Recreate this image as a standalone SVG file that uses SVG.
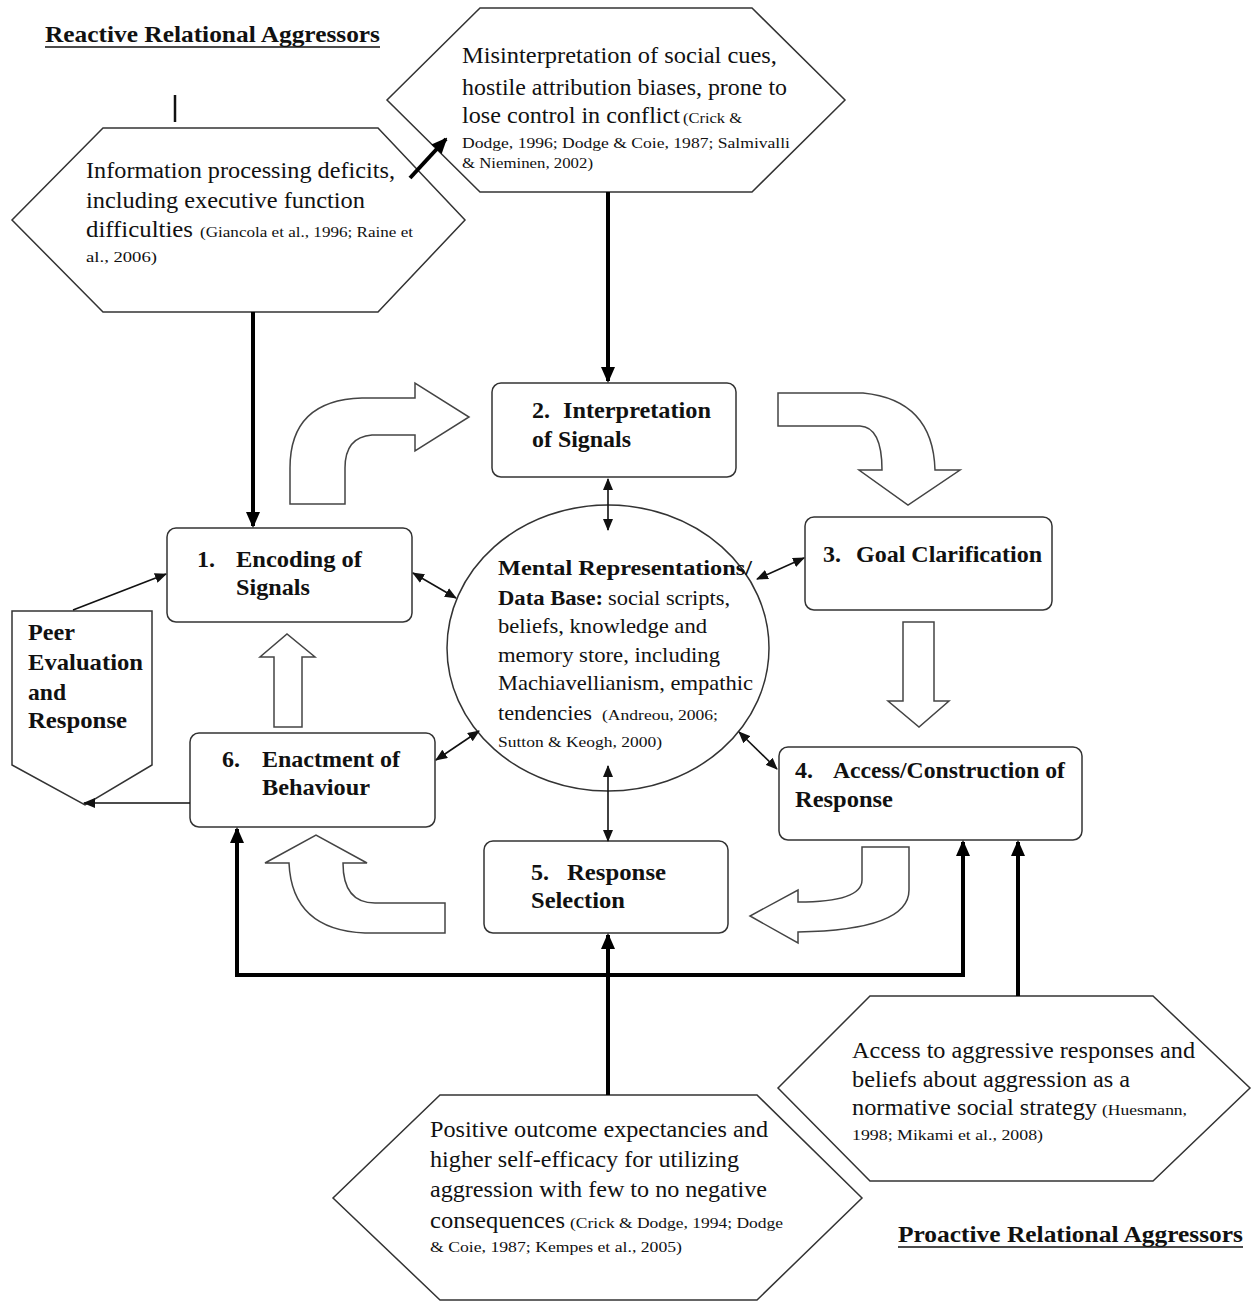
<svg xmlns="http://www.w3.org/2000/svg" width="1253" height="1304" viewBox="0 0 1253 1304">
  <style>
    .t { font-family: "Liberation Serif", "Times New Roman", serif; fill: #111; }
    .body { font-size: 23px; }
    .cite { font-size: 15px; }
    .b { font-weight: bold; font-size: 24px; }
    .title { font-weight: bold; font-size: 23px; }
    .shape { fill: #fff; stroke: #333; stroke-width: 1.5; }
    .block { fill: #fff; stroke: #444; stroke-width: 1.5; stroke-linejoin: miter; }
    .thick { fill: none; stroke: #000; stroke-width: 4; }
    .thin { fill: none; stroke: #111; stroke-width: 1.6; }
    .ul { stroke: #111; stroke-width: 1.5; }
  </style>
  <defs>
    <marker id="headThick" markerUnits="userSpaceOnUse" markerWidth="16" markerHeight="16" viewBox="0 0 16 16" refX="14" refY="8" orient="auto">
      <path d="M0,1 L16,8 L0,15 Z" fill="#000"/>
    </marker>
    <marker id="headThin" markerUnits="userSpaceOnUse" markerWidth="12" markerHeight="10" viewBox="0 0 12 10" refX="11" refY="5" orient="auto-start-reverse">
      <path d="M0,0 L12,5 L0,10 Z" fill="#111"/>
    </marker>
  </defs>

  <rect width="1253" height="1304" fill="#fff"/>

  <!-- headings -->
  <g id="heading-reactive">
    <text class="t title" x="45" y="42" textLength="335" lengthAdjust="spacingAndGlyphs">Reactive Relational Aggressors</text>
    <line class="ul" x1="45" y1="47" x2="380" y2="47"/>
  </g>
  <g id="heading-proactive">
    <text class="t title" x="898" y="1242" textLength="345" lengthAdjust="spacingAndGlyphs">Proactive Relational Aggressors</text>
    <line class="ul" x1="898" y1="1247" x2="1243" y2="1247"/>
  </g>

  <!-- small tick under the reactive heading -->
  <line x1="175" y1="95" x2="175" y2="122" stroke="#111" stroke-width="2.5"/>

  <!-- hexagon: information processing deficits -->
  <g id="hex-deficits">
    <polygon class="shape" points="103,128 378,128 465,220 378,312 103,312 12,220"/>
    <text class="t body" x="86" y="178" textLength="309" lengthAdjust="spacingAndGlyphs">Information processing deficits,</text>
    <text class="t body" x="86" y="208" textLength="279" lengthAdjust="spacingAndGlyphs">including executive function</text>
    <text class="t body" x="86" y="237" textLength="107" lengthAdjust="spacingAndGlyphs">difficulties</text>
    <text class="t cite" x="200" y="237" textLength="213" lengthAdjust="spacingAndGlyphs">(Giancola et al., 1996; Raine et</text>
    <text class="t cite" x="86" y="262" textLength="71" lengthAdjust="spacingAndGlyphs">al., 2006)</text>
  </g>

  <!-- hexagon: misinterpretation of social cues -->
  <g id="hex-misinterpretation">
    <polygon class="shape" points="480,8 752,8 845,100 752,192 480,192 387,100"/>
    <text class="t body" x="462" y="63" textLength="315" lengthAdjust="spacingAndGlyphs">Misinterpretation of social cues,</text>
    <text class="t body" x="462" y="95" textLength="325" lengthAdjust="spacingAndGlyphs">hostile attribution biases, prone to</text>
    <text class="t body" x="462" y="123" textLength="218" lengthAdjust="spacingAndGlyphs">lose control in conflict</text>
    <text class="t cite" x="683" y="123" textLength="59" lengthAdjust="spacingAndGlyphs">(Crick &amp;</text>
    <text class="t cite" x="462" y="148" textLength="328" lengthAdjust="spacingAndGlyphs">Dodge, 1996; Dodge &amp; Coie, 1987; Salmivalli</text>
    <text class="t cite" x="462" y="168" textLength="131" lengthAdjust="spacingAndGlyphs">&amp; Nieminen, 2002)</text>
  </g>

  <!-- step 1 -->
  <g id="step-1-encoding">
    <rect class="shape" x="167" y="528" width="245" height="94" rx="9"/>
    <text class="t b" x="197" y="567">1.</text>
    <text class="t b" x="236" y="567" textLength="126" lengthAdjust="spacingAndGlyphs">Encoding of</text>
    <text class="t b" x="236" y="595" textLength="74" lengthAdjust="spacingAndGlyphs">Signals</text>
  </g>

  <!-- step 2 -->
  <g id="step-2-interpretation">
    <rect class="shape" x="492" y="383" width="244" height="94" rx="9"/>
    <text class="t b" x="532" y="418">2.</text>
    <text class="t b" x="563" y="418" textLength="148" lengthAdjust="spacingAndGlyphs">Interpretation</text>
    <text class="t b" x="532" y="447" textLength="99" lengthAdjust="spacingAndGlyphs">of Signals</text>
  </g>

  <!-- step 3 -->
  <g id="step-3-goal">
    <rect class="shape" x="805" y="517" width="247" height="93" rx="9"/>
    <text class="t b" x="823" y="562">3.</text>
    <text class="t b" x="856" y="562" textLength="186" lengthAdjust="spacingAndGlyphs">Goal Clarification</text>
  </g>

  <!-- step 4 -->
  <g id="step-4-access">
    <rect class="shape" x="779" y="747" width="303" height="93" rx="9"/>
    <text class="t b" x="795" y="778">4.</text>
    <text class="t b" x="833" y="778" textLength="232" lengthAdjust="spacingAndGlyphs">Access/Construction of</text>
    <text class="t b" x="795" y="807" textLength="98" lengthAdjust="spacingAndGlyphs">Response</text>
  </g>

  <!-- step 5 -->
  <g id="step-5-selection">
    <rect class="shape" x="484" y="841" width="244" height="92" rx="9"/>
    <text class="t b" x="531" y="880">5.</text>
    <text class="t b" x="567" y="880" textLength="99" lengthAdjust="spacingAndGlyphs">Response</text>
    <text class="t b" x="531" y="908" textLength="94" lengthAdjust="spacingAndGlyphs">Selection</text>
  </g>

  <!-- step 6 -->
  <g id="step-6-enactment">
    <rect class="shape" x="190" y="733" width="245" height="94" rx="9"/>
    <text class="t b" x="222" y="767">6.</text>
    <text class="t b" x="262" y="767" textLength="138" lengthAdjust="spacingAndGlyphs">Enactment of</text>
    <text class="t b" x="262" y="795" textLength="108" lengthAdjust="spacingAndGlyphs">Behaviour</text>
  </g>

  <!-- peer evaluation pentagon -->
  <g id="peer-evaluation">
    <polygon class="shape" points="12,611 152,611 152,765 85,805 12,765"/>
    <text class="t b" x="28" y="640" textLength="47" lengthAdjust="spacingAndGlyphs">Peer</text>
    <text class="t b" x="28" y="670" textLength="115" lengthAdjust="spacingAndGlyphs">Evaluation</text>
    <text class="t b" x="28" y="700" textLength="38" lengthAdjust="spacingAndGlyphs">and</text>
    <text class="t b" x="28" y="728" textLength="99" lengthAdjust="spacingAndGlyphs">Response</text>
  </g>

  <!-- central database ellipse -->
  <g id="mental-representations">
    <ellipse class="shape" cx="608" cy="648" rx="161" ry="143"/>
    <text class="t b" style="font-size:22px" x="498" y="575" textLength="254" lengthAdjust="spacingAndGlyphs">Mental Representations/</text>
    <text class="t b" style="font-size:22px" x="498" y="605" textLength="105" lengthAdjust="spacingAndGlyphs">Data Base:</text>
    <text class="t body" style="font-size:22px" x="608" y="605" textLength="122" lengthAdjust="spacingAndGlyphs">social  scripts,</text>
    <text class="t body" style="font-size:22px" x="498" y="633" textLength="209" lengthAdjust="spacingAndGlyphs">beliefs, knowledge and</text>
    <text class="t body" style="font-size:22px" x="498" y="662" textLength="222" lengthAdjust="spacingAndGlyphs">memory store, including</text>
    <text class="t body" style="font-size:22px" x="498" y="690" textLength="255" lengthAdjust="spacingAndGlyphs">Machiavellianism, empathic</text>
    <text class="t body" style="font-size:22px" x="498" y="720" textLength="94" lengthAdjust="spacingAndGlyphs">tendencies</text>
    <text class="t cite" x="602" y="720" textLength="116" lengthAdjust="spacingAndGlyphs">(Andreou, 2006;</text>
    <text class="t cite" x="498" y="747" textLength="164" lengthAdjust="spacingAndGlyphs">Sutton &amp; Keogh, 2000)</text>
  </g>

  <!-- hexagon: positive outcome expectancies -->
  <g id="hex-outcome">
    <polygon class="shape" points="440,1095 757,1095 862,1198 757,1300 440,1300 333,1198"/>
    <text class="t body" x="430" y="1137" textLength="338" lengthAdjust="spacingAndGlyphs">Positive outcome expectancies and</text>
    <text class="t body" x="430" y="1167" textLength="309" lengthAdjust="spacingAndGlyphs">higher self-efficacy for utilizing</text>
    <text class="t body" x="430" y="1197" textLength="337" lengthAdjust="spacingAndGlyphs">aggression with few to no negative</text>
    <text class="t body" x="430" y="1228" textLength="135" lengthAdjust="spacingAndGlyphs">consequences</text>
    <text class="t cite" x="570" y="1228" textLength="213" lengthAdjust="spacingAndGlyphs">(Crick &amp; Dodge, 1994; Dodge</text>
    <text class="t cite" x="430" y="1252" textLength="252" lengthAdjust="spacingAndGlyphs">&amp; Coie, 1987; Kempes et al., 2005)</text>
  </g>

  <!-- hexagon: access to aggressive responses -->
  <g id="hex-access">
    <polygon class="shape" points="870,996 1153,996 1250,1088 1153,1181 870,1181 778,1088"/>
    <text class="t body" x="852" y="1058" textLength="343" lengthAdjust="spacingAndGlyphs">Access to aggressive responses and</text>
    <text class="t body" x="852" y="1087" textLength="278" lengthAdjust="spacingAndGlyphs">beliefs about aggression as a</text>
    <text class="t body" x="852" y="1115" textLength="245" lengthAdjust="spacingAndGlyphs">normative social strategy</text>
    <text class="t cite" x="1102" y="1115" textLength="85" lengthAdjust="spacingAndGlyphs">(Huesmann,</text>
    <text class="t cite" x="852" y="1140" textLength="191" lengthAdjust="spacingAndGlyphs">1998; Mikami et al., 2008)</text>
  </g>

  <!-- connectors -->
  <g id="connectors">
    <!-- cycle block arrows -->
    <path class="block" d="M290,504 V468 Q290,400 362,398 H415 V383 L469,417 L415,451 V435 H372 Q345,437 345,468 V504 Z"/>
    <path class="block" d="M778,393 H863 Q933,400 935,470 H960 L908,505 L859,470 H882 Q882,427 860,426 H778 Z"/>
    <path class="block" d="M903,622 H934 V701 H949 L919,727 L888,701 H903 Z"/>
    <path class="block" d="M862,847 H909 V890 Q909,930 798,932 V943 L750,916 L798,890 V902 Q862,902 862,880 Z"/>
    <path class="block" d="M445,933 H365 Q292,930 289,863 H265 L316,835 L367,863 H343 Q343,903 375,903 H445 Z"/>
    <path class="block" d="M274,727 V657 H260 L287,634 L315,657 H302 V727 Z"/>

    <!-- heavy influence arrows -->
    <path class="thick" d="M253,312 V526" marker-end="url(#headThick)"/>
    <path class="thick" d="M608,192 V381" marker-end="url(#headThick)"/>
    <path class="thick" d="M410,178 L446,139" marker-end="url(#headThick)"/>
    <path class="thick" d="M608,1095 V935" marker-end="url(#headThick)"/>
    <path class="thick" d="M237,977 V829" marker-end="url(#headThick)"/>
    <path class="thick" d="M237,975 H963 V842" marker-end="url(#headThick)"/>
    <path class="thick" d="M1018,996 V842" marker-end="url(#headThick)"/>

    <!-- database links and peer feedback -->
    <path class="thin" d="M608,479 V530" marker-start="url(#headThin)" marker-end="url(#headThin)"/>
    <path class="thin" d="M413,573 L456,598" marker-start="url(#headThin)" marker-end="url(#headThin)"/>
    <path class="thin" d="M804,558 L757,579" marker-start="url(#headThin)" marker-end="url(#headThin)"/>
    <path class="thin" d="M436,760 L479,731" marker-start="url(#headThin)" marker-end="url(#headThin)"/>
    <path class="thin" d="M777,769 L739,732" marker-start="url(#headThin)" marker-end="url(#headThin)"/>
    <path class="thin" d="M608,766 V841" marker-start="url(#headThin)" marker-end="url(#headThin)"/>
    <path class="thin" d="M73,610 L166,574" marker-end="url(#headThin)"/>
    <path class="thin" d="M190,803 H84" marker-end="url(#headThin)"/>
  </g>
</svg>
